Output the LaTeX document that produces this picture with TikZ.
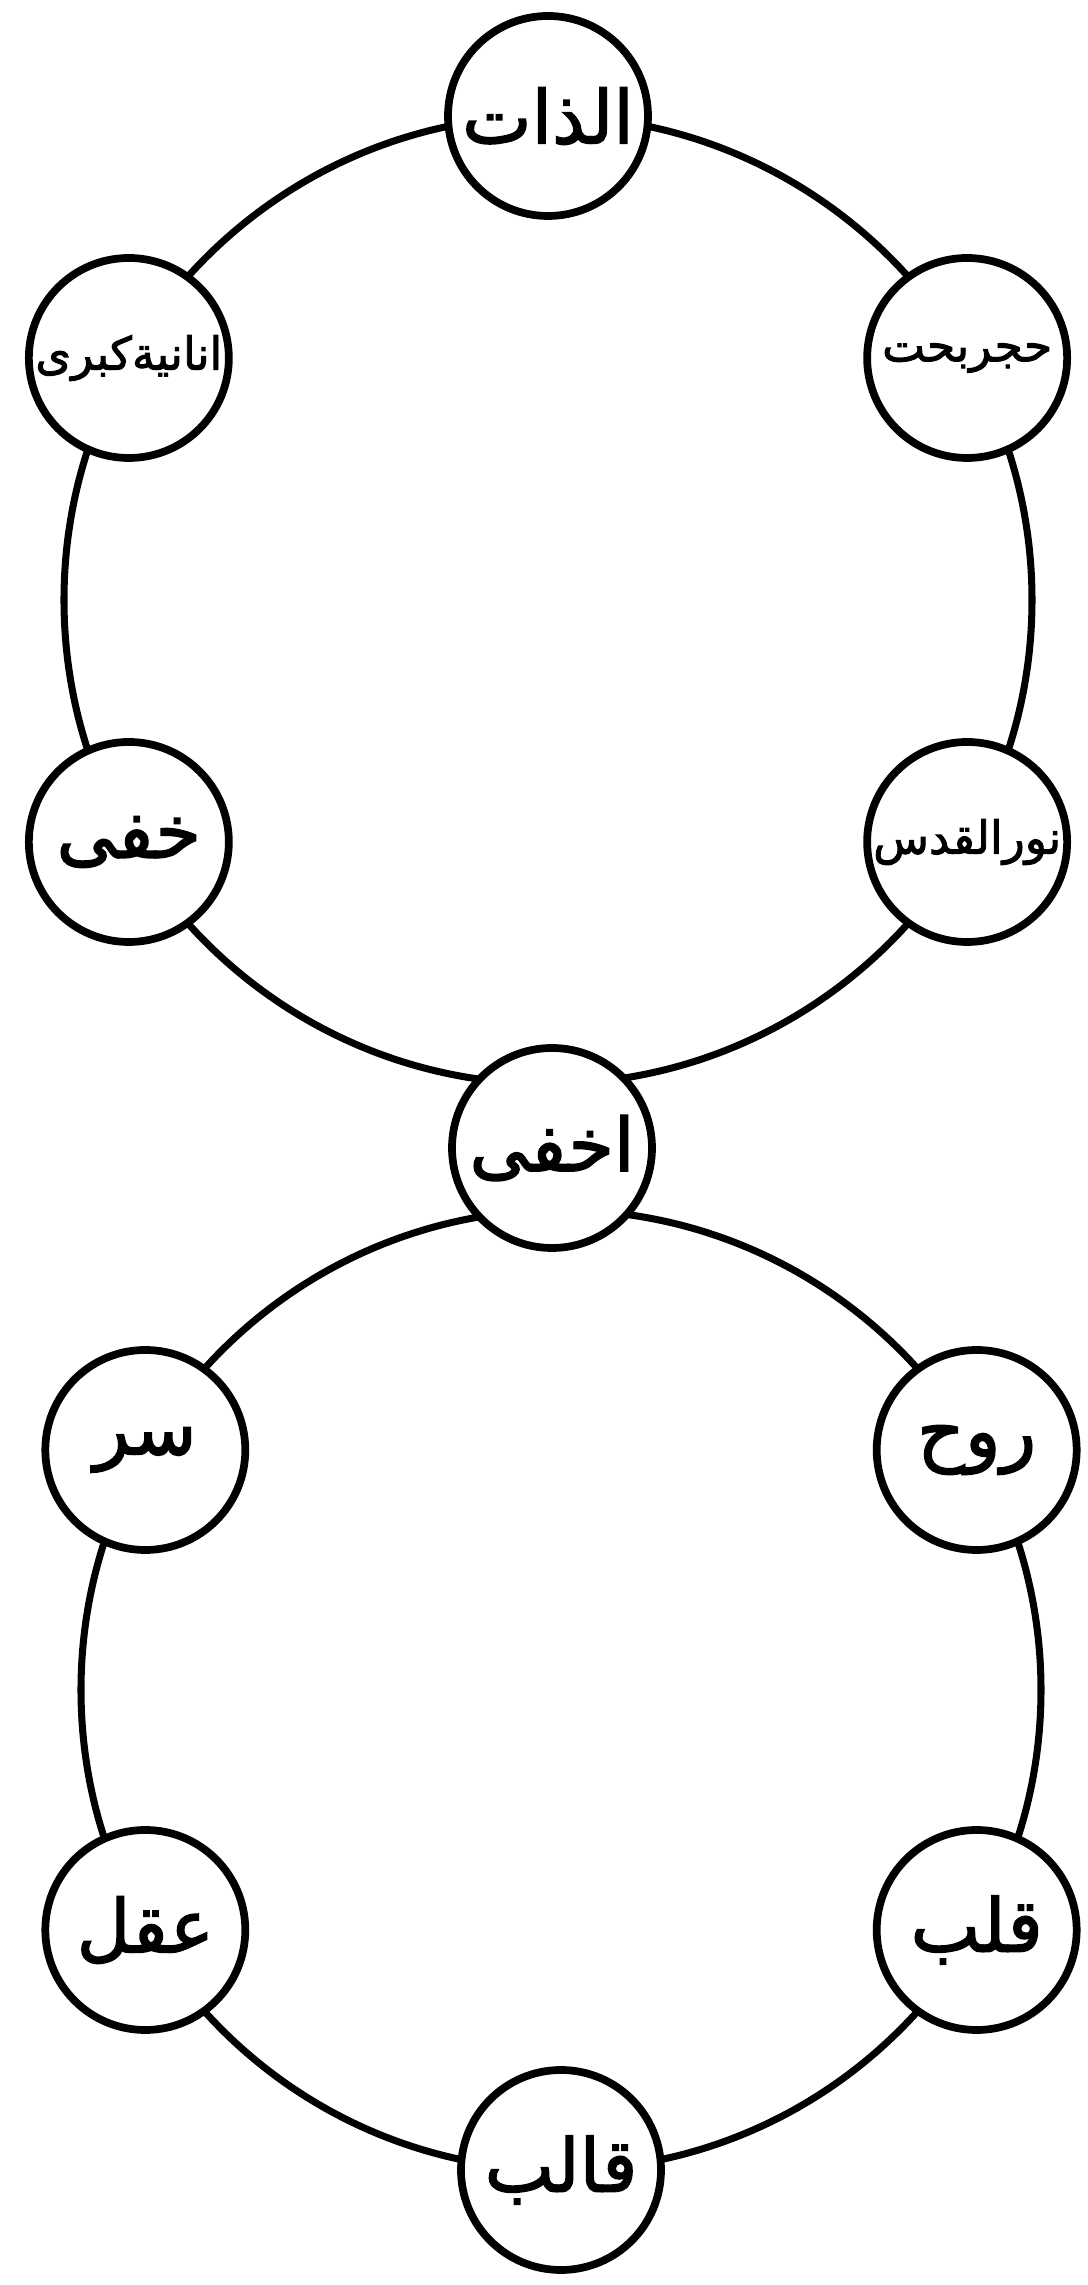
\documentclass[tikz,border=0pt]{standalone}
\usepackage{fontspec}
\newfontfamily\arabicfont[Script=Arabic,FakeBold=2]{DejaVu Sans}
\TeXXeTstate=1
\usetikzlibrary{calc}

\tikzset{
  ring/.style={line width=2pt},
  latifa/.style={circle, draw, line width=2.2pt, fill=white, minimum size=2.0cm, inner sep=0pt,
    font=\arabicfont\fontsize{21}{24}\selectfont},
  longname/.style={font=\arabicfont\fontsize{13}{15}\selectfont},
}

\begin{document}
\begin{tikzpicture}
    \useasboundingbox (0,0) rectangle (10.88,22.85);
    \coordinate (up) at (5.48,16.85);
    \coordinate (lo) at (5.61,5.95);
    \draw[ring] (up) circle (4.84);
    \draw[ring] (lo) circle (4.80);
    
    % upper ring
    \foreach \a/\n/\t/\s in {90/zat/الذات/, 150/ananiya/انانیةکبری/longname, 30/hajar/حجربحت/longname, 210/khafi/خفی/, 330/nur/نورالقدس/longname} {
        \node[latifa, \s] (\n) at ($(up)+(\a:4.84)$) {\beginR\t\endR};
    }
    
    % the one between both rings
    \node[latifa] (akhfa) at (5.52,11.37) {\beginR اخفی\endR};
    
    % lower ring
    \foreach \a/\n/\t in {150/sirr/سر, 30/ruh/روح, 210/aql/عقل, 330/qalb/قلب, 270/qalib/قالب} {
        \node[latifa] (\n) at ($(lo)+(\a:4.80)$) {\beginR\t\endR};
    }
\end{tikzpicture}
\end{document}
